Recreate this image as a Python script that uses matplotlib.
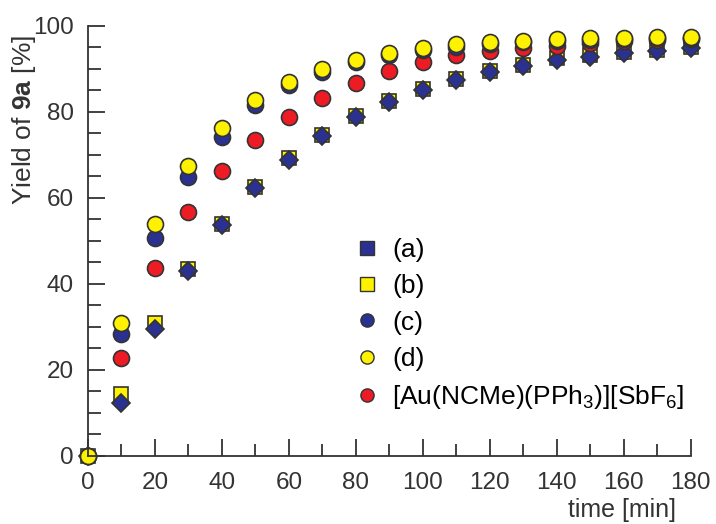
import matplotlib
matplotlib.use('Agg')
import matplotlib.pyplot as plt
from matplotlib.lines import Line2D
from matplotlib.ticker import MultipleLocator

plt.rcParams['font.family'] = ['Liberation Sans', 'DejaVu Sans']
plt.rcParams['mathtext.fontset'] = 'custom'
plt.rcParams['mathtext.rm'] = 'Liberation Sans'
plt.rcParams['mathtext.it'] = 'Liberation Sans'
plt.rcParams['mathtext.bf'] = 'Liberation Sans:bold'

# time [min]
t = [0, 10, 20, 30, 40, 50, 60, 70, 80, 90, 100, 110, 120, 130, 140, 150, 160, 170, 180]

yield_a = [0, 12.3, 29.6, 43.1, 53.7, 62.3, 68.9, 74.4, 78.8, 82.2, 85.0, 87.4, 89.2, 90.6, 92.1, 92.9, 93.6, 94.1, 94.8]
yield_b = [0, 14.3, 30.8, 43.4, 53.9, 62.6, 69.2, 74.7, 79.1, 82.5, 85.3, 87.7, 89.6, 91.0, 92.5, 93.3, 94.0, 94.5, 95.2]
yield_c = [0, 28.3, 50.7, 64.9, 74.2, 81.5, 86.2, 89.4, 91.6, 93.2, 94.4, 95.2, 95.8, 96.2, 96.5, 96.8, 97.0, 97.2, 97.3]
yield_d = [0, 31.0, 53.9, 67.5, 76.3, 82.8, 87.0, 89.9, 92.1, 93.6, 94.8, 95.7, 96.2, 96.6, 96.9, 97.3, 97.3, 97.5, 97.5]
yield_au = [0, 22.7, 43.6, 56.8, 66.3, 73.5, 78.9, 83.3, 86.8, 89.6, 91.7, 93.2, 94.2, 94.9, 95.4, 96.0, 96.4, 96.8, 97.0]

labels = ['(a)', '(b)', '(c)', '(d)', '[Au(NCMe)(PPh$_3$)][SbF$_6$]']

blue = '#2b3190'
yellow = '#fff200'
red = '#ed1c24'
edge = '#333333'
txt = '#333333'

fig = plt.figure(figsize=(7.16, 5.24), dpi=100)
ax = fig.add_axes([0.1229, 0.1303, 0.8418, 0.8201])

kw = dict(linestyle='none', markeredgecolor=edge, markeredgewidth=1.2, clip_on=False)
ax.plot(t, yield_b, marker='s', markersize=9.8, markerfacecolor=yellow, **kw)
ax.plot(t, yield_a, marker='D', markersize=8.8, markerfacecolor=blue, **kw)
ax.plot(t, yield_au, marker='o', markersize=11.5, markerfacecolor=red, **kw)
ax.plot(t, yield_c, marker='o', markersize=11.5, markerfacecolor=blue, **kw)
ax.plot(t, yield_d, marker='o', markersize=11.5, markerfacecolor=yellow, **kw)

ax.set_xlim(0, 180)
ax.set_ylim(0, 100)
ax.spines['top'].set_visible(False)
ax.spines['right'].set_visible(False)
for s in ['left', 'bottom']:
    ax.spines[s].set_color(edge)
    ax.spines[s].set_linewidth(1.3)

ax.xaxis.set_major_locator(MultipleLocator(20))
ax.xaxis.set_minor_locator(MultipleLocator(10))
ax.yaxis.set_major_locator(MultipleLocator(20))
ax.yaxis.set_minor_locator(MultipleLocator(5))
ax.tick_params(which='both', direction='in', color=edge, width=1.3, labelcolor=txt, labelsize=17.5)
ax.tick_params(which='major', length=12)
ax.tick_params(which='minor', length=9)
ax.tick_params(axis='x', which='major', pad=12)
ax.tick_params(axis='y', which='major', pad=10)

ax.text(-0.107, 0.781, r'Yield of $\mathbf{9a}$ [%]', transform=ax.transAxes, rotation=90,
        ha='center', va='center', fontsize=19, color=txt)
ax.text(0.975, -0.126, 'time [min]', transform=ax.transAxes, ha='right', va='center',
        fontsize=18, color=txt)

handles = [
    Line2D([], [], linestyle='none', marker='s', markersize=10, markerfacecolor=blue, markeredgecolor=edge),
    Line2D([], [], linestyle='none', marker='s', markersize=10, markerfacecolor=yellow, markeredgecolor=edge),
    Line2D([], [], linestyle='none', marker='o', markersize=9.5, markerfacecolor=blue, markeredgecolor=edge),
    Line2D([], [], linestyle='none', marker='o', markersize=9.5, markerfacecolor=yellow, markeredgecolor=edge),
    Line2D([], [], linestyle='none', marker='o', markersize=9.5, markerfacecolor=red, markeredgecolor=edge),
]
ax.legend(handles, labels, loc='upper left', bbox_to_anchor=(0.441, 0.507), frameon=False,
          fontsize=19, handlelength=1.0, handletextpad=0.45, labelspacing=0.47,
          borderaxespad=0, borderpad=0)

fig.savefig('out.png', dpi=100)
